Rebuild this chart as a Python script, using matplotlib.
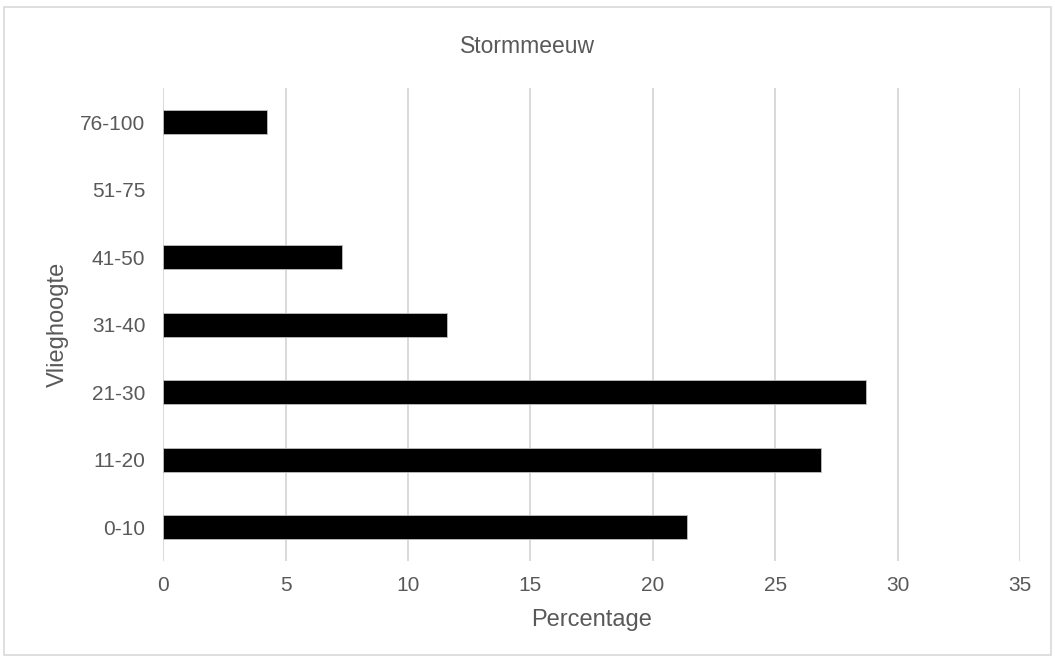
import matplotlib; matplotlib.use("Agg")
import matplotlib.pyplot as plt
from matplotlib.patches import Rectangle

plt.rcParams['font.family'] = ['Liberation Sans', 'DejaVu Sans']

klassen = ['0-10', '11-20', '21-30', '31-40', '41-50', '51-75', '76-100']
percentage = [21.39, 26.88, 28.72, 11.6, 7.32, 0.0, 4.25]
xticks = [0, 5, 10, 15, 20, 25, 30, 35]

GRIJS = '#595959'

fig = plt.figure(figsize=(10.55, 6.6), dpi=100)
ax = fig.add_axes([0.1548, 0.15, 0.9667 - 0.1548, 0.866 - 0.15])

ax.barh(range(len(klassen)), percentage, height=0.36, color='black',
        edgecolor='#bfbfbf', linewidth=[0.6 if p > 0 else 0 for p in percentage], zorder=3)

ax.set_xlim(0, 35)
ax.set_ylim(-0.5, len(klassen) - 0.5)
ax.set_xticks(xticks)
ax.set_yticks(range(len(klassen)))
ax.set_yticklabels(klassen)
ax.grid(axis='x', color='#d9d9d9', linewidth=1.4, zorder=0)
for s in ax.spines.values():
    s.set_visible(False)
ax.tick_params(length=0, labelsize=15, colors=GRIJS)
ax.tick_params(axis='y', pad=13)
ax.tick_params(axis='x', pad=11)

ax.set_xlabel('Percentage', fontsize=17, color=GRIJS, labelpad=10)
ax.set_ylabel('Vlieghoogte', fontsize=17, color=GRIJS, labelpad=8)
fig.text(0.5, 0.93, 'Stormmeeuw', ha='center', va='center', fontsize=16.5, color=GRIJS)

# lichte kader rond de hele grafiek
fig.patches.append(Rectangle((0.004, 0.008), 0.992, 0.981, transform=fig.transFigure,
                             fill=False, edgecolor='#d9d9d9', linewidth=1.2))

fig.savefig('out.png', dpi=100)
